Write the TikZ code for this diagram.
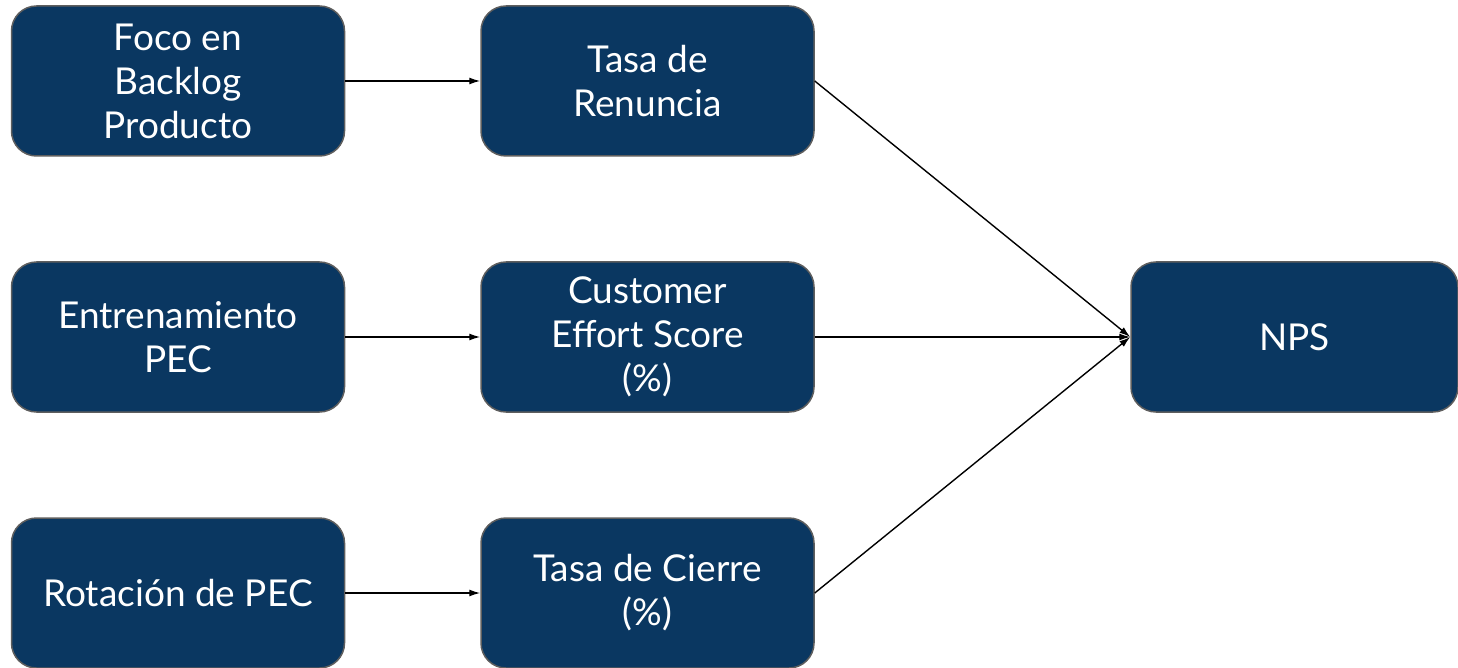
\documentclass[tikz,border=0pt]{standalone}
\usepackage{fontspec}
\setmainfont{Lato}
\usetikzlibrary{arrows.meta}
\definecolor{boxblue}{HTML}{0A3761}
\definecolor{boxrim}{HTML}{5E5E5E}
\tikzset{
  stagebox/.style={draw=boxrim, line width=1.5pt, fill=boxblue, rounded corners=25pt,
    minimum width=333pt, minimum height=150pt, inner sep=0pt, text=white,
    align=center, font=\fontsize{37}{44}\selectfont},
  link/.style={line width=1.4pt, -{Latex[length=11pt,width=7pt]}}
}
\begin{document}
\begin{tikzpicture}[x=1pt,y=-1pt]
  \useasboundingbox (0,0) rectangle (1458,668);
  % left column: drivers
  \node[stagebox] (foco) at (178,81) {Foco en\\Backlog\\Producto};
  \node[stagebox] (entr) at (178,337) {Entrenamiento\\PEC};
  \node[stagebox] (rota) at (178,593) {Rotación de PEC};
  % middle column: indicators
  \node[stagebox] (renu) at (647.5,81) {Tasa de\\Renuncia};
  \node[stagebox] (ces) at (647.5,337) {Customer\\Effort Score\\(\%)};
  \node[stagebox] (cier) at (647.5,593) {Tasa de Cierre\\(\%)};
  % outcome
  \node[stagebox, minimum width=327pt] (nps) at (1294.5,337) {NPS};
  % connectors
  \draw[link] (foco) -- (renu);
  \draw[link] (entr) -- (ces);
  \draw[link] (rota) -- (cier);
  \draw[link] (renu.east) -- (nps.west);
  \draw[link] (ces.east) -- (nps.west);
  \draw[link] (cier.east) -- (nps.west);
\end{tikzpicture}
\end{document}
